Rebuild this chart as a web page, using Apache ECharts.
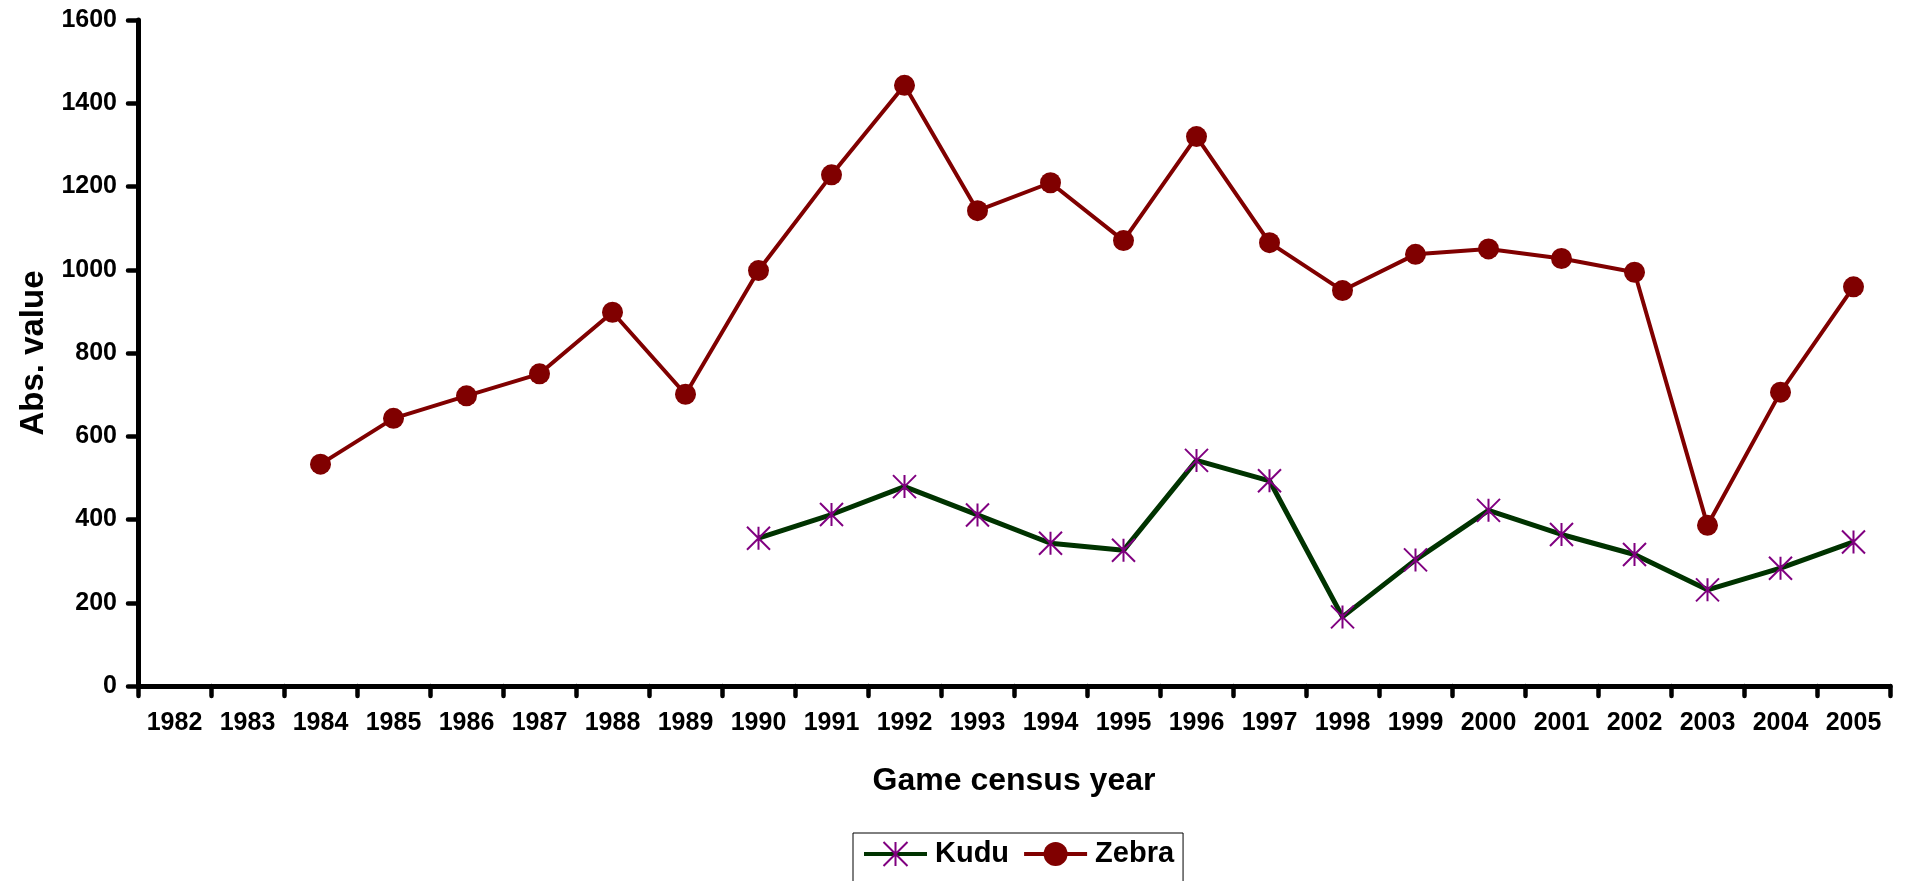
<!DOCTYPE html>
<html>
<head>
<meta charset="utf-8">
<script src="https://cdn.jsdelivr.net/npm/echarts@6/dist/echarts.min.js"></script>
<style>
html,body{margin:0;padding:0;background:#fff;}
#chart{width:1906px;height:881px;}
</style>
</head>
<body>
<div id="chart"></div>
<script>
var years = ['1982','1983','1984','1985','1986','1987','1988','1989','1990','1991','1992','1993','1994','1995','1996','1997','1998','1999','2000','2001','2002','2003','2004','2005'];
var kudu = ['-','-','-','-','-','-','-','-',355,412,479,411,343,326,542,493,166,303,422,364,316,231,283,346];
var zebra = ['-','-',533,643,697,750,898,701,998,1228,1443,1142,1209,1070,1320,1065,950,1037,1050,1027,994,386,706,959];
var yTicks = {min:0, max:1600, interval:200};

var FONT = 'Liberation Sans, Arial, sans-serif';
var chart = echarts.init(document.getElementById('chart'), null, {renderer:'canvas'});
var starPath = 'path://M0,0L20,20M0,20L20,0M10,0L10,20';
chart.setOption({
  animation:false,
  backgroundColor:'#fff',
  textStyle:{fontFamily:FONT},
  grid:{left:138, right:16, top:20, bottom:195, containLabel:false},
  legend:{
    left:853, top:833,
    padding:[5,9,30,9],
    borderColor:'#000', borderWidth:1,
    itemWidth:63, itemHeight:30, itemGap:13,
    lineStyle:{width:4},
    textStyle:{fontFamily:FONT, fontWeight:'bold', fontSize:29, color:'#000', lineHeight:32, padding:[0,0,0,3]},
    data:['Kudu','Zebra']
  },
  xAxis:{
    type:'category', data:years, boundaryGap:true,
    name:'Game census year', nameLocation:'middle', nameGap:79,
    nameTextStyle:{fontFamily:FONT, fontWeight:'bold', fontSize:32, color:'#000'},
    axisLine:{lineStyle:{color:'#000', width:5}},
    axisTick:{show:true, length:10, alignWithLabel:false, lineStyle:{color:'#000', width:4.5, cap:'round'}},
    axisLabel:{fontFamily:FONT, fontWeight:'bold', fontSize:25, color:'#000', margin:25, interval:0},
    splitLine:{show:false}
  },
  yAxis:{
    type:'value', min:yTicks.min, max:yTicks.max, interval:yTicks.interval,
    name:'Abs. value', nameLocation:'middle', nameGap:86, nameRotate:90,
    nameTextStyle:{fontFamily:FONT, fontWeight:'bold', fontSize:33, color:'#000'},
    axisLine:{show:true, lineStyle:{color:'#000', width:5}},
    axisTick:{show:true, length:10, lineStyle:{color:'#000', width:4.5, cap:'round'}},
    axisLabel:{fontFamily:FONT, fontWeight:'bold', fontSize:25, color:'#000', margin:21,
      formatter:function(v){return String(v);}},
    splitLine:{show:false}
  },
  series:[
    {
      name:'Kudu', type:'line', data:kudu,
      symbol:starPath, symbolSize:[23,23], symbolKeepAspect:false,
      lineStyle:{color:'#003300', width:5},
      itemStyle:{color:'#800080', borderColor:'#800080', borderWidth:2},
      emphasis:{disabled:true}, z:3
    },
    {
      name:'Zebra', type:'line', data:zebra,
      symbol:'circle', symbolSize:21,
      lineStyle:{color:'#800000', width:4},
      itemStyle:{color:'#800000', borderWidth:0},
      emphasis:{disabled:true}, z:2
    }
  ]
});
</script>
</body>
</html>
